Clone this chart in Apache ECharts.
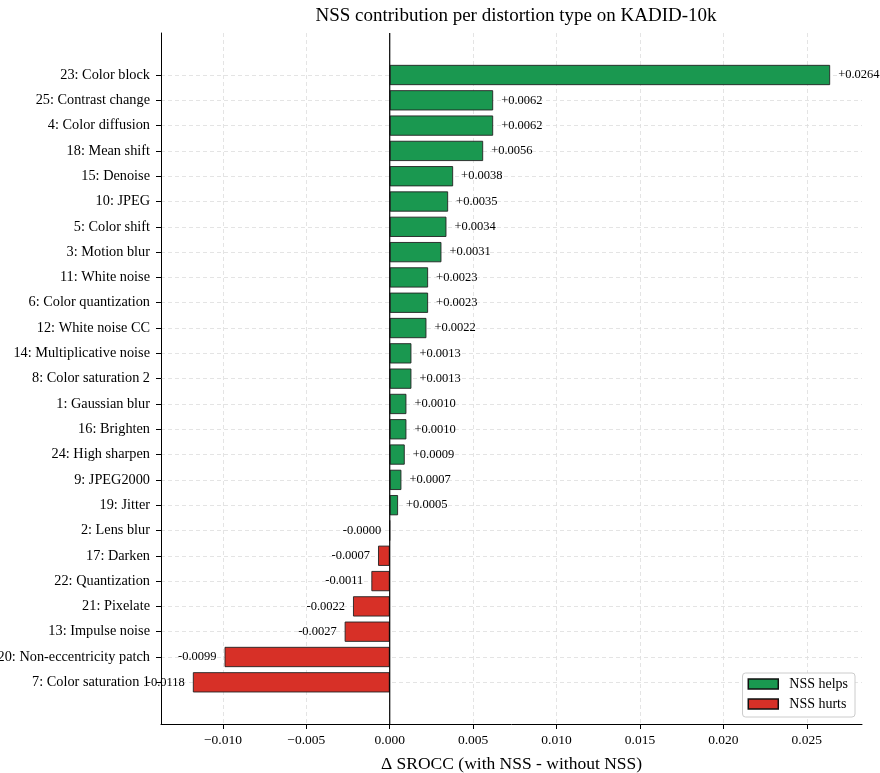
<!DOCTYPE html>
<html>
<head>
<meta charset="utf-8">
<script src="https://cdn.jsdelivr.net/npm/echarts@6/dist/echarts.min.js"></script>
<style>
  html, body { margin: 0; padding: 0; background: #ffffff; }
  #chart { width: 880px; height: 773px; }
</style>
</head>
<body>
<div id="chart"></div>
<script>
// Distortion types, sorted by change in SROCC (largest gain first)
const categories = [
  '23: Color block', '25: Contrast change', '4: Color diffusion', '18: Mean shift',
  '15: Denoise', '10: JPEG', '5: Color shift', '3: Motion blur', '11: White noise',
  '6: Color quantization', '12: White noise CC', '14: Multiplicative noise',
  '8: Color saturation 2', '1: Gaussian blur', '16: Brighten', '24: High sharpen',
  '9: JPEG2000', '19: Jitter', '2: Lens blur', '17: Darken', '22: Quantization',
  '21: Pixelate', '13: Impulse noise', '20: Non-eccentricity patch', '7: Color saturation 1'
];

// Δ SROCC (with NSS - without NSS) per distortion type
const deltas = [
  0.0264, 0.0062, 0.0062, 0.0056, 0.0038, 0.0035, 0.0034, 0.0031, 0.0023,
  0.0023, 0.0022, 0.0013, 0.0013, 0.0010, 0.0010, 0.0009, 0.0007, 0.0005,
  -0.0000, -0.0007, -0.0011, -0.0022, -0.0027, -0.0099, -0.0118
];

// x-axis tick positions and view limits
const xTicks = [-0.010, -0.005, 0.000, 0.005, 0.010, 0.015, 0.020, 0.025];
const xLimits = [-0.01371, 0.02831];

const seriesNames = ['NSS helps', 'NSS hurts'];

const FONT = '"Liberation Serif", "Times New Roman", "DejaVu Serif", serif';
const GREEN = '#1a9850';
const RED = '#d73027';
const GRID_DASH = { color: '#dddddd', width: 0.8, type: [4, 3] };

function signed(i) {
  const v = deltas[i];
  const neg = v < 0 || Object.is(v, -0);
  return (neg ? '-' : '+') + Math.abs(v).toFixed(4);
}

function tickText(v) {
  if (Math.abs(v) < 1e-12) return '0.000';
  return (v < 0 ? '\u2212' : '') + Math.abs(v).toFixed(3);
}

const isHurt = v => v < 0 || Object.is(v, -0);
const helpsData = deltas.map(v => (isHurt(v) ? '-' : v));
const hurtsData = deltas.map(v => (isHurt(v) ? v : '-'));

const chart = echarts.init(document.getElementById('chart'), null, { renderer: 'canvas' });

chart.setOption({
  animation: false,
  backgroundColor: '#ffffff',
  textStyle: { fontFamily: FONT, color: '#000' },
  title: {
    text: 'NSS contribution per distortion type on KADID-10k',
    left: 511, top: 2, textAlign: 'center',
    textStyle: { fontFamily: FONT, fontSize: 19, fontWeight: 'normal', color: '#000' }
  },
  legend: {
    data: seriesNames,
    orient: 'vertical',
    right: 25, bottom: 56,
    icon: 'rect',
    itemWidth: 30, itemHeight: 10, itemGap: 6,
    itemStyle: { borderColor: '#111', borderWidth: 1.5 },
    textStyle: { fontFamily: FONT, fontSize: 14, color: '#000', padding: [0, 0, 0, 6] },
    backgroundColor: '#ffffff',
    borderColor: '#cccccc', borderWidth: 1, borderRadius: 3,
    padding: [4, 7, 6, 5]
  },
  grid: [
    // full plotting frame: spines, x ticks, vertical grid lines
    { left: 161, right: 18, top: 33, bottom: 49, containLabel: false, outerBoundsMode: 'none' },
    // category band area: first/last category centres at the top/bottom edges
    { left: 161, right: 18, top: 75, bottom: 90.7, containLabel: false, outerBoundsMode: 'none' }
  ],
  xAxis: [
    {
      type: 'value', gridIndex: 0, min: xLimits[0], max: xLimits[1],
      axisLine: { show: true, onZero: false, lineStyle: { color: '#000', width: 1 } },
      axisTick: { show: true, length: 5, lineStyle: { color: '#000', width: 1 }, customValues: xTicks },
      axisLabel: {
        customValues: xTicks, formatter: tickText, margin: 9,
        fontFamily: FONT, fontSize: 13.5, color: '#000'
      },
      splitLine: { show: true, lineStyle: GRID_DASH },
      name: 'Δ SROCC (with NSS - without NSS)',
      nameLocation: 'middle', nameGap: 31,
      nameTextStyle: { fontFamily: FONT, fontSize: 17.5, color: '#000' }
    },
    {
      type: 'value', gridIndex: 1, min: xLimits[0], max: xLimits[1], show: false,
      splitLine: { show: false }
    }
  ],
  yAxis: [
    {
      type: 'value', gridIndex: 0, min: 0, max: 1,
      axisLine: { show: true, onZero: false, lineStyle: { color: '#000', width: 1 } },
      axisTick: { show: false }, axisLabel: { show: false }, splitLine: { show: false }
    },
    {
      type: 'category', gridIndex: 1, data: categories, inverse: true, boundaryGap: false,
      axisLine: { show: false, onZero: false },
      axisTick: { show: true, interval: 0, length: 5, lineStyle: { color: '#000', width: 1 } },
      axisLabel: { interval: 0, margin: 11, fontFamily: FONT, fontSize: 14.3, color: '#000' },
      splitLine: { show: true, interval: 0, lineStyle: GRID_DASH }
    }
  ],
  series: [
    {
      name: seriesNames[0], type: 'bar', xAxisIndex: 1, yAxisIndex: 1,
      data: helpsData, barWidth: '80%', barGap: '-100%', clip: false,
      itemStyle: { color: GREEN, borderColor: '#222', borderWidth: 0.9 },
      label: {
        show: true, position: 'right', distance: 8,
        formatter: p => signed(p.dataIndex),
        fontFamily: FONT, fontSize: 12.5, color: '#000'
      },
      z: 3
    },
    {
      name: seriesNames[1], type: 'bar', xAxisIndex: 1, yAxisIndex: 1,
      data: hurtsData, barWidth: '80%', barGap: '-100%', clip: false,
      itemStyle: { color: RED, borderColor: '#222', borderWidth: 0.9 },
      label: {
        show: true, position: 'left', distance: 8,
        formatter: p => signed(p.dataIndex),
        fontFamily: FONT, fontSize: 12.5, color: '#000'
      },
      z: 3
    },
    {
      // vertical reference line at zero change
      name: 'zero', type: 'line', xAxisIndex: 0, yAxisIndex: 0,
      data: [[0, 0], [0, 1]], symbol: 'none', silent: true,
      lineStyle: { color: '#000', width: 1.2 }, z: 5
    }
  ]
});
</script>
</body>
</html>
